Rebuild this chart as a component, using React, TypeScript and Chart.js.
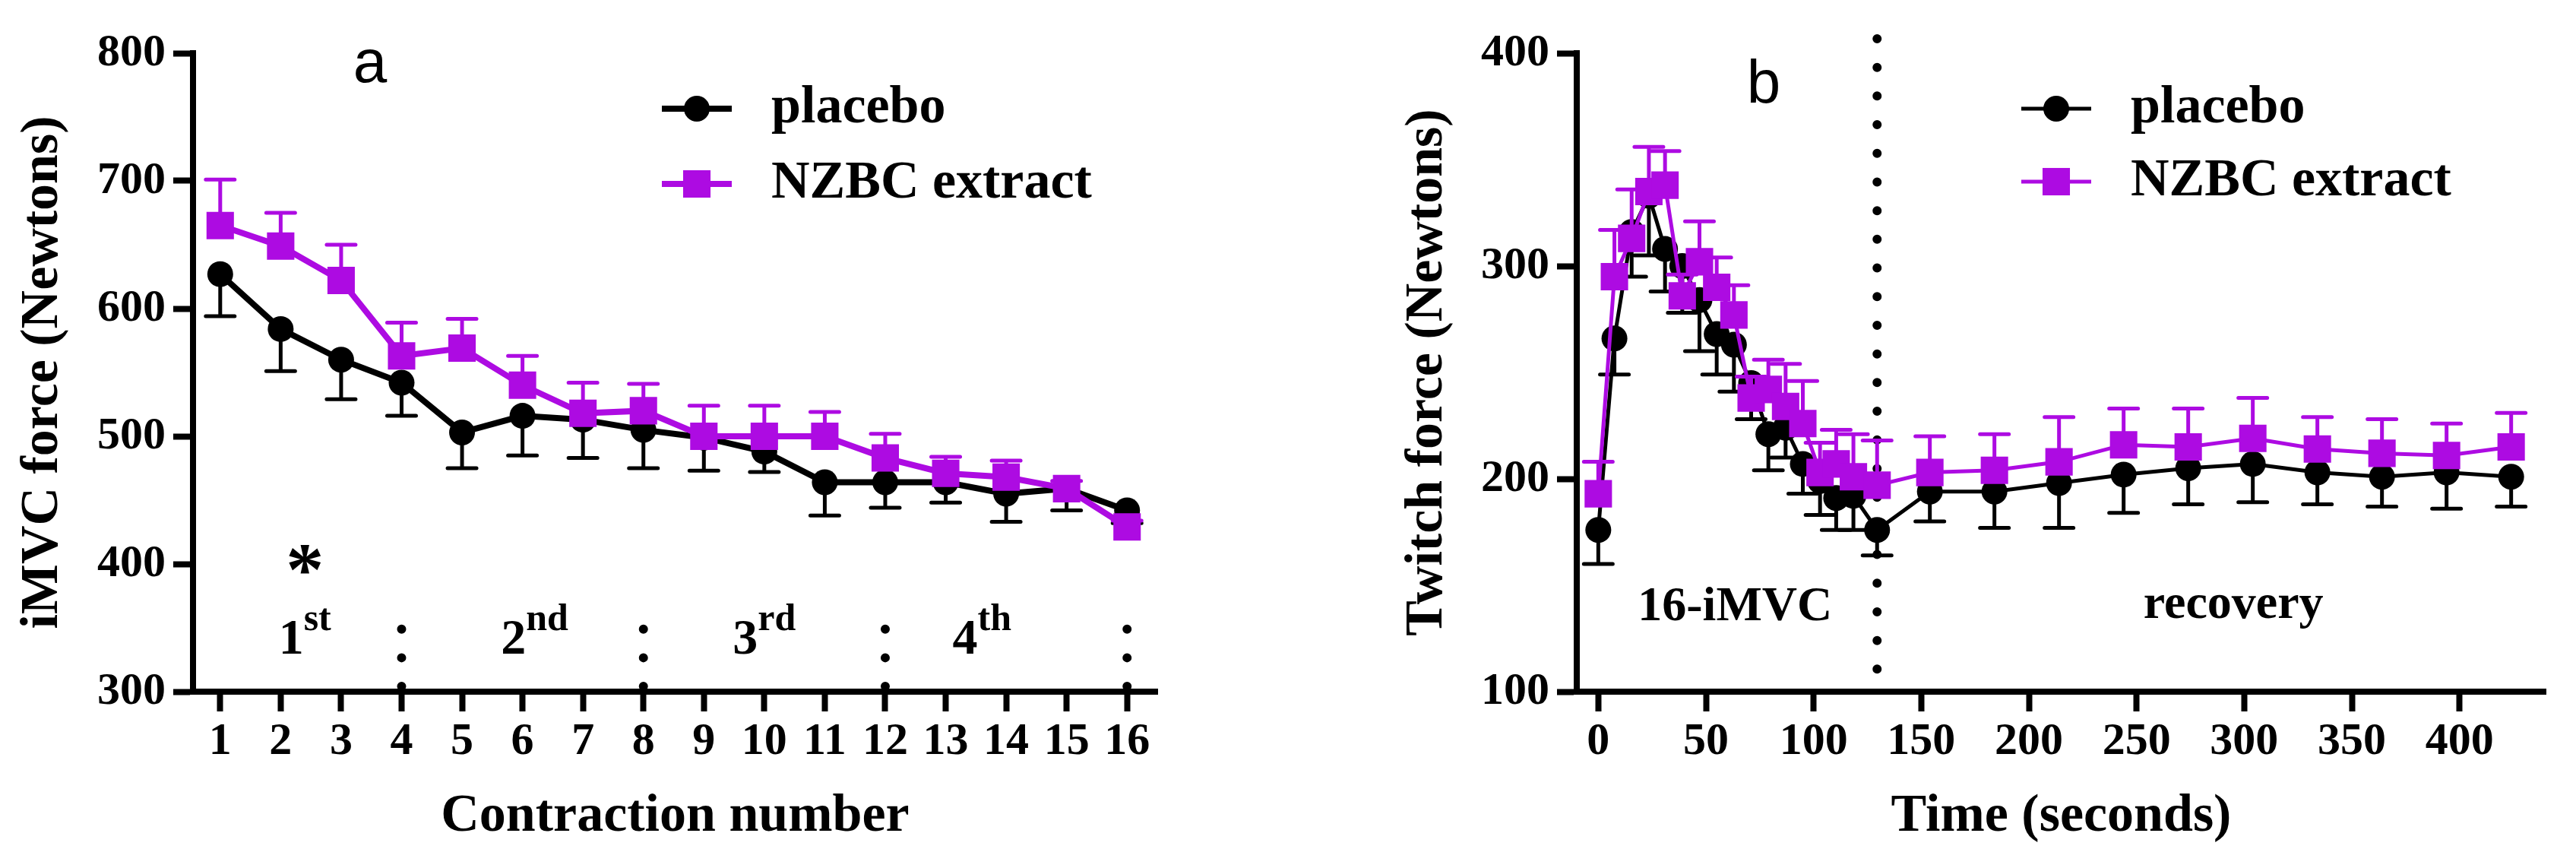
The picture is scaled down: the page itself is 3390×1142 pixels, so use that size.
import React, { useEffect, useRef } from "react";
import { Chart, registerables } from "chart.js";

Chart.register(...registerables);

const PURPLE = "#ad0be2";
const BLACK = "#000000";
const SERIF = "'Liberation Serif', 'Times New Roman', serif";
const SANS = "'Liberation Sans', Arial, sans-serif";

// ---- panel a: iMVC force over 16 contractions ----
const contractions = [1, 2, 3, 4, 5, 6, 7, 8, 9, 10, 11, 12, 13, 14, 15, 16];
const placeboMvc = [627, 584, 560, 542, 503, 516, 513, 505, 499, 488, 464, 464, 464, 455, 459, 442];
const placeboMvcSem = [33, 33, 31, 26, 28, 31, 30, 30, 26, 16, 26, 20, 16, 22, 17, 10];
const nzbcMvc = [665, 649, 622, 563, 569, 540, 518, 520, 500, 500, 500, 483, 471, 468, 459, 429];
const nzbcMvcSem = [36, 26, 28, 26, 23, 23, 24, 21, 24, 24, 19, 19, 13, 13, 6, 5];
const mvcTicks = [300, 400, 500, 600, 700, 800];
const setEdges = [4, 8, 12, 16];
const setNumbers = ["1", "2", "3", "4"];
const setSuffixes = ["st", "nd", "rd", "th"];
const setLabelX = [2.4, 6.2, 10, 13.6];

// ---- panel b: twitch force over time ----
const times = [0, 7.5, 15.5, 23.5, 31, 39, 47, 55, 63, 71, 79, 87, 95, 103, 110.5, 118.5, 129.5,
  154, 184, 214, 244, 274, 304, 334, 364, 394, 424];
const placeboTwitch = [176, 266, 316, 333, 308, 300, 284, 268, 263, 245, 221, 224, 207, 199, 191, 192, 176,
  194, 194, 198, 202, 205, 207, 203, 201, 203, 201];
const placeboTwitchSem = [16, 17, 21, 28, 20, 22, 24, 19, 22, 17, 17, 14, 14, 16, 15, 16, 12,
  14, 17, 21, 18, 17, 18, 15, 14, 17, 14];
const nzbcTwitch = [193, 295, 313, 335, 338, 286, 302, 290, 277, 238, 242, 234, 226, 203, 207, 201, 197,
  203, 204, 208, 216, 215, 219, 214, 212, 211, 215];
const nzbcTwitchSem = [15, 22, 23, 21, 16, 10, 19, 14, 14, 10, 14, 20, 20, 14, 16, 20, 21,
  17, 17, 21, 17, 18, 19, 15, 16, 15, 16];
const timeTicks = [0, 50, 100, 150, 200, 250, 300, 350, 400];
const twitchTicks = [100, 200, 300, 400];
const restMarkTime = 129.5;

const pts = (xs: number[], ys: number[]) => xs.map((x, i) => ({ x, y: ys[i] }));

// error bars, drawn just before their own dataset
const errorBars = (width: number, cap: number) => ({
  id: "errorBars",
  beforeDatasetDraw(chart: any, args: any) {
    const ds = chart.data.datasets[args.index];
    if (!ds.sem) return;
    const { ctx, scales } = chart;
    ctx.save();
    ctx.strokeStyle = ds.borderColor;
    ctx.lineWidth = width;
    ctx.lineCap = "round";
    ds.data.forEach((p: any, i: number) => {
      const x = scales.x.getPixelForValue(p.x);
      const y0 = scales.y.getPixelForValue(p.y);
      const y1 = scales.y.getPixelForValue(p.y + ds.semSign * ds.sem[i]);
      ctx.beginPath();
      ctx.moveTo(x, y0);
      ctx.lineTo(x, y1);
      ctx.moveTo(x - cap / 2, y1);
      ctx.lineTo(x + cap / 2, y1);
      ctx.stroke();
    });
    ctx.restore();
  },
});

// legend inside plot: line + marker + label
const insideLegend = (x: number, y: number, gap: number) => ({
  id: "insideLegend",
  afterDraw(chart: any) {
    const { ctx } = chart;
    let row = 0;
    chart.data.datasets.forEach((ds: any) => {
      if (!ds.label) return;
      const cy = y + row * gap;
      row++;
      ctx.save();
      ctx.strokeStyle = ds.borderColor;
      ctx.fillStyle = ds.backgroundColor;
      ctx.lineWidth = ds.borderWidth;
      ctx.beginPath();
      ctx.moveTo(x - 46, cy);
      ctx.lineTo(x + 46, cy);
      ctx.stroke();
      if (ds.pointStyle === "rect") {
        const s = ds.pointRadius * Math.SQRT1_2;
        ctx.fillRect(x - s, cy - s, 2 * s, 2 * s);
      } else {
        ctx.beginPath();
        ctx.arc(x, cy, ds.pointRadius, 0, Math.PI * 2);
        ctx.fill();
      }
      ctx.fillStyle = BLACK;
      ctx.font = `bold 70px ${SERIF}`;
      ctx.textAlign = "left";
      ctx.textBaseline = "middle";
      ctx.fillText(ds.label, x + 98, cy);
      ctx.restore();
    });
  },
});

type Note = { text: string; x?: number; y?: number; px?: number; py?: number; font: string; sup?: string; supFont?: string; supY?: number };

const notes = (items: Note[]) => ({
  id: "notes",
  afterDatasetsDraw(chart: any) {
    const { ctx, scales } = chart;
    ctx.save();
    ctx.fillStyle = BLACK;
    ctx.textBaseline = "alphabetic";
    items.forEach((n) => {
      const x = n.px ?? scales.x.getPixelForValue(n.x);
      const y = n.py ?? scales.y.getPixelForValue(n.y);
      ctx.font = n.font;
      if (!n.sup) {
        ctx.textAlign = "center";
        ctx.fillText(n.text, x, y);
        return;
      }
      const w1 = ctx.measureText(n.text).width;
      ctx.font = n.supFont;
      const w2 = ctx.measureText(n.sup).width;
      const start = x - (w1 + w2) / 2;
      ctx.textAlign = "left";
      ctx.fillText(n.sup, start + w1, scales.y.getPixelForValue(n.supY));
      ctx.font = n.font;
      ctx.fillText(n.text, start, y);
    });
    ctx.restore();
  },
});

const tickFont = { family: SERIF, size: 60, weight: "bold" as const };
const titleFont = { family: SERIF, size: 70, weight: "bold" as const };

function axis(min: number, max: number, ticks: number[], title: string, horizontal: boolean, fit: number, titlePad: number) {
  return {
    type: "linear" as const,
    min,
    max,
    afterBuildTicks: (s: any) => {
      s.ticks = ticks.map((value) => ({ value }));
    },
    afterFit: (s: any) => {
      if (horizontal) s.height = fit;
      else s.width = fit;
    },
    grid: { display: true, drawOnChartArea: false, drawTicks: true, tickLength: 26, tickWidth: 8, tickColor: BLACK },
    border: { display: true, color: BLACK, width: 8 },
    ticks: { color: BLACK, font: tickFont, padding: horizontal ? 4 : 10, maxRotation: 0, autoSkip: false },
    title: {
      display: true,
      text: title,
      color: BLACK,
      font: titleFont,
      padding: horizontal ? { top: 0, bottom: titlePad } : { top: titlePad, bottom: 0 },
    },
  };
}

function series(label: string, color: string, data: any[], sem: number[], semSign: number, square: boolean, width: number) {
  return {
    label,
    data,
    sem,
    semSign,
    borderColor: color,
    backgroundColor: color,
    borderWidth: width,
    pointStyle: square ? "rect" : "circle",
    pointRadius: square ? 25.5 : 17,
    pointBorderWidth: 0,
    pointBackgroundColor: color,
    tension: 0,
    order: square ? 0 : 1,
  };
}

function dotted(x: number, yTop: number, yBottom: number) {
  return {
    data: [{ x, y: yTop }, { x, y: yBottom }],
    borderColor: BLACK,
    borderWidth: 12,
    borderDash: [0, 37.7],
    borderCapStyle: "round",
    pointRadius: 0,
    clip: false,
    order: 2,
  };
}

function mvcConfig(): any {
  const noteItems: Note[] = setNumbers.map((t, i) => ({
    text: t, x: setLabelX[i], y: 330, font: `bold 66px ${SERIF}`,
    sup: setSuffixes[i], supFont: `bold 50px ${SERIF}`, supY: 348,
  }));
  noteItems.push({ text: "*", x: 2.4, y: 376, font: `bold 100px ${SERIF}` });
  noteItems.push({ text: "a", px: 487, py: 108, font: `80px ${SANS}` });
  return {
    type: "line",
    data: {
      datasets: [
        series("placebo", BLACK, pts(contractions, placeboMvc), placeboMvcSem, -1, false, 8),
        series("NZBC extract", PURPLE, pts(contractions, nzbcMvc), nzbcMvcSem, 1, true, 8),
        ...setEdges.map((e) => dotted(e, 349, 300)),
      ],
    },
    options: {
      animation: false,
      responsive: true,
      maintainAspectRatio: false,
      devicePixelRatio: 1,
      layout: { padding: { top: 70, right: 177, left: 0, bottom: 0 } },
      plugins: { legend: { display: false }, tooltip: { enabled: false } },
      scales: {
        x: axis(0.55, 16.5, contractions, "Contraction number", true, 232, 25),
        y: axis(300, 800, mvcTicks, "iMVC force (Newtons)", false, 254, 15),
      },
    },
    plugins: [errorBars(5, 38), insideLegend(917, 143, 99), notes(noteItems)],
  };
}

function twitchConfig(): any {
  const noteItems: Note[] = [
    { text: "16-iMVC", x: 63.5, y: 133.6, font: `bold 64px ${SERIF}` },
    { text: "recovery", x: 295, y: 134.6, font: `bold 64px ${SERIF}` },
    { text: "b", px: 621, py: 135, font: `80px ${SANS}` },
  ];
  return {
    type: "line",
    data: {
      datasets: [
        series("placebo", BLACK, pts(times, placeboTwitch), placeboTwitchSem, -1, false, 5),
        series("NZBC extract", PURPLE, pts(times, nzbcTwitch), nzbcTwitchSem, 1, true, 5),
        dotted(restMarkTime, 406.8, 107.5),
      ],
    },
    options: {
      animation: false,
      responsive: true,
      maintainAspectRatio: false,
      devicePixelRatio: 1,
      layout: { padding: { top: 70, right: 40, left: 0, bottom: 0 } },
      plugins: { legend: { display: false }, tooltip: { enabled: false } },
      scales: {
        x: axis(-10, 440, timeTicks, "Time (seconds)", true, 232, 25),
        y: axis(100, 400, twitchTicks, "Twitch force (Newtons)", false, 375, 137),
      },
    },
    plugins: [errorBars(5, 38), insideLegend(1006, 143, 96), notes(noteItems)],
  };
}

function Panel({ left, width, make }: { left: number; width: number; make: () => any }) {
  const ref = useRef<HTMLCanvasElement>(null);
  useEffect(() => {
    const chart = new Chart(ref.current!, make());
    return () => chart.destroy();
  }, []);
  return (
    <div style={{ position: "absolute", top: 0, left, width, height: 1142 }}>
      <canvas ref={ref} />
    </div>
  );
}

export default function App() {
  return (
    <div style={{ position: "absolute", top: 0, left: 0, width: 3390, height: 1142, background: "#fff" }}>
      <Panel left={0} width={1700} make={mvcConfig} />
      <Panel left={1700} width={1690} make={twitchConfig} />
    </div>
  );
}
